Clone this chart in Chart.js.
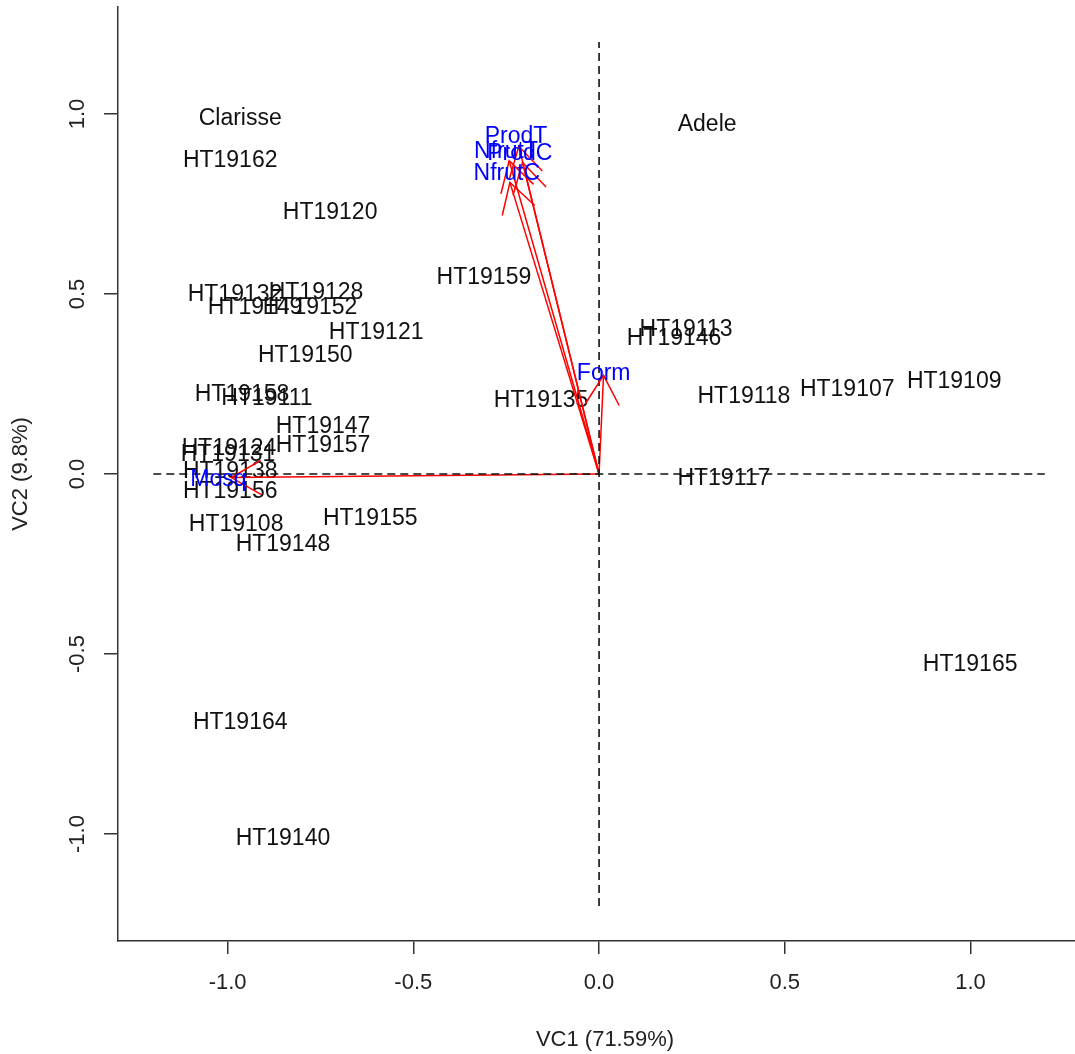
<!DOCTYPE html>
<html>
<head>
<meta charset="utf-8">
<title>Biplot VC1 / VC2</title>
<script src="https://cdn.jsdelivr.net/npm/chart.js@4.4.1/dist/chart.umd.min.js"></script>
<style>
  html, body { margin: 0; padding: 0; background: #fff; overflow: hidden; }
  #wrap { width: 1092px; height: 1054px; }
</style>
</head>
<body>
<div id="wrap"><canvas id="biplot" width="1092" height="1054"></canvas></div>
<script>
// scores of the genotypes (label = point, no marker)
const sampleNames = ['Clarisse', 'Adele', 'HT19162', 'HT19120', 'HT19159', 'HT19132', 'HT19128',
  'HT19149', 'HT19152', 'HT19121', 'HT19150', 'HT19158', 'HT19111', 'HT19147', 'HT19157',
  'HT19124', 'HT19131', 'HT19138', 'HT19156', 'HT19108', 'HT19148', 'HT19155', 'HT19164',
  'HT19140', 'HT19165', 'HT19113', 'HT19146', 'HT19118', 'HT19107', 'HT19109', 'HT19117',
  'HT19135'];
const sampleX = [-0.966, 0.291, -0.993, -0.724, -0.310, -0.980, -0.762,
  -0.926, -0.778, -0.600, -0.791, -0.961, -0.894, -0.743, -0.743,
  -0.996, -0.999, -0.993, -0.993, -0.977, -0.851, -0.616, -0.966,
  -0.851, 0.999, 0.234, 0.202, 0.390, 0.668, 0.956, 0.336,
  -0.156];
const sampleY = [0.992, 0.975, 0.875, 0.731, 0.550, 0.503, 0.508,
  0.467, 0.467, 0.397, 0.333, 0.225, 0.214, 0.136, 0.083,
  0.075, 0.058, 0.011, -0.044, -0.136, -0.192, -0.119, -0.686,
  -1.008, -0.525, 0.406, 0.381, 0.219, 0.239, 0.261, -0.006,
  0.208];

// variable loadings (arrow tips)
const varNames = ['ProdT', 'NfrutT', 'ProdC', 'NfrutC', 'Form', 'Mosq'];
const varX = [-0.216, -0.242, -0.206, -0.240, 0.012, -0.990];
const varY = [0.910, 0.870, 0.865, 0.810, 0.274, -0.010];

const xTicks = [-1, -0.5, 0, 0.5, 1];
const yTicks = [-1, -0.5, 0, 0.5, 1];
const refLine = [-1.2, 1.2];

const FONT = "'Liberation Sans', Arial, sans-serif";

const biplotLabels = {
    id: 'biplotLabels',
    beforeDatasetsDraw(chart) {
        const ctx = chart.ctx;
        const meta = chart.getDatasetMeta(2);
        ctx.save();
        ctx.font = '23px ' + FONT;
        ctx.fillStyle = '#111';
        ctx.textAlign = 'center';
        ctx.textBaseline = 'middle';
        meta.data.forEach((pt, i) => {
            ctx.fillText(sampleNames[i], pt.x, pt.y + 2);
        });
        ctx.restore();
    },
    afterDatasetsDraw(chart) {
        const ctx = chart.ctx;
        const xs = chart.scales.x, ys = chart.scales.y;
        const ox = xs.getPixelForValue(0), oy = ys.getPixelForValue(0);
        ctx.save();
        // arrow heads
        ctx.strokeStyle = '#ff0000';
        ctx.lineWidth = 1.5;
        varNames.forEach((n, i) => {
            const tx = xs.getPixelForValue(varX[i]);
            const ty = ys.getPixelForValue(varY[i]);
            const a = Math.atan2(ty - oy, tx - ox);
            const len = 34, spread = Math.PI / 6;
            ctx.beginPath();
            ctx.moveTo(tx - len * Math.cos(a - spread), ty - len * Math.sin(a - spread));
            ctx.lineTo(tx, ty);
            ctx.lineTo(tx - len * Math.cos(a + spread), ty - len * Math.sin(a + spread));
            ctx.stroke();
        });
        // variable names, a bit past the tips
        ctx.font = '23px ' + FONT;
        ctx.fillStyle = '#0000ff';
        ctx.textAlign = 'center';
        ctx.textBaseline = 'middle';
        varNames.forEach((n, i) => {
            ctx.fillText(n, xs.getPixelForValue(varX[i] * 1.035), ys.getPixelForValue(varY[i] * 1.035) + 2);
        });
        ctx.restore();
    }
};

const datasets = [
    {   // horizontal reference
        data: refLine.map(v => ({x: v, y: 0})),
        showLine: true, borderColor: '#111', borderWidth: 1.6, borderDash: [8, 5], pointRadius: 0
    },
    {   // vertical reference
        data: refLine.map(v => ({x: 0, y: v})),
        showLine: true, borderColor: '#111', borderWidth: 1.6, borderDash: [8, 5], pointRadius: 0
    },
    {   // samples (text drawn by plugin)
        data: sampleNames.map((n, i) => ({x: sampleX[i], y: sampleY[i]})),
        pointRadius: 0
    }
];
varNames.forEach((n, i) => {
    datasets.push({
        data: [{x: 0, y: 0}, {x: varX[i], y: varY[i]}],
        showLine: true, borderColor: '#ff0000', borderWidth: 1.5, pointRadius: 0
    });
});

const axisColor = '#333';

new Chart(document.getElementById('biplot'), {
    type: 'scatter',
    data: { datasets: datasets },
    options: {
        responsive: false,
        animation: false,
        devicePixelRatio: 1,
        events: [],
        layout: { padding: { top: 7, right: 0, left: 0, bottom: 0 } },
        plugins: { legend: { display: false }, tooltip: { enabled: false } },
        scales: {
            x: {
                type: 'linear',
                min: -1.295, max: 1.327,
                afterBuildTicks: s => { s.ticks = xTicks.map(v => ({value: v})); },
                afterFit: s => { s.height = 113; s.paddingLeft = 0; s.paddingRight = 0; },
                grid: { display: true, drawOnChartArea: false, drawTicks: true, tickLength: 13, color: axisColor, lineWidth: 1.5 },
                border: { display: true, color: axisColor, width: 1.5 },
                ticks: {
                    autoSkip: false, maxRotation: 0, padding: 16, color: '#222',
                    font: { family: FONT, size: 22 },
                    callback: v => v.toFixed(1)
                },
                title: {
                    display: true, text: 'VC1 (71.59%)', color: '#222',
                    font: { family: FONT, size: 22 }, padding: { top: 0, bottom: 1 }
                }
            },
            y: {
                type: 'linear',
                min: -1.297, max: 1.297,
                afterBuildTicks: s => { s.ticks = yTicks.map(v => ({value: v})); },
                afterFit: s => { s.width = 118; s.paddingTop = 0; s.paddingBottom = 0; },
                grid: { display: true, drawOnChartArea: false, drawTicks: true, tickLength: 14, color: axisColor, lineWidth: 1.5 },
                border: { display: true, color: axisColor, width: 1.5 },
                ticks: {
                    autoSkip: false, minRotation: 90, maxRotation: 90, crossAlign: 'center',
                    padding: 7, color: '#222',
                    font: { family: FONT, size: 22 },
                    callback: v => v.toFixed(1)
                },
                title: {
                    display: true, text: 'VC2 (9.8%)', color: '#222',
                    font: { family: FONT, size: 22 }, padding: { top: 8, bottom: 0 }
                }
            }
        }
    },
    plugins: [biplotLabels]
});
</script>
</body>
</html>
